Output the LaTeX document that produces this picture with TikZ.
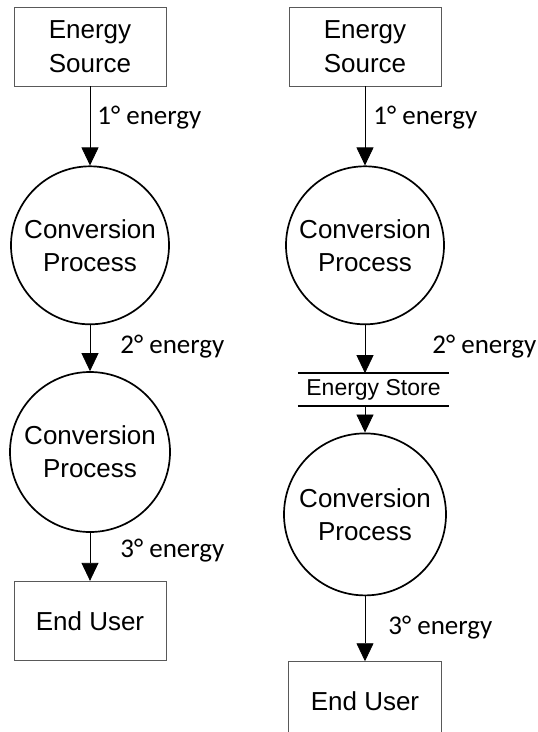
\documentclass[tikz,border=0pt]{standalone}
\usepackage{fontspec}
\setmainfont{Liberation Sans}
\newfontfamily\labelfont{Carlito}
\usetikzlibrary{arrows.meta, positioning}
\tikzset{
    node distance = 46pt and 46pt,% vertical gap between the stages
    unit/.style = {rectangle, draw=black!65, line width=0.9pt, minimum width=152pt, minimum height=79pt, inner sep=0pt, align=center, font=\fontsize{26}{34}\selectfont}, % source and user boxes
    process/.style = {circle, draw, line width=1.7pt, minimum size=158pt, inner sep=0pt, align=center, font=\fontsize{26}{33}\selectfont},
    store/.style = {rectangle, minimum width=151pt, minimum height=32pt, inner sep=0pt, font=\fontsize{23}{28}\selectfont},
    storeline/.style = {line width=2pt},
    flow/.style = {-{Triangle[length=18pt, width=17pt]}, line width=0.8pt},
    lab/.style = {right, inner sep=0pt, font=\labelfont\fontsize{27}{32}\selectfont}
}
\begin{document}
\begin{tikzpicture}[x=1pt, y=-1pt]
    \useasboundingbox (0,0) rectangle (538,732);
    % left chain
    \node (srcA) [unit] at (90,46.5) {Energy\\Source};
    \node (convA1) [process, below=79pt of srcA] {Conversion\\Process};
    \node (convA2) [process, minimum size=160pt, below=of convA1] {Conversion\\Process};
    \node (userA) [unit, below=48pt of convA2] {End User};
    \draw[flow] (srcA) -- node[lab, pos=0.4, xshift=7pt] {1° energy} (convA1);
    \draw[flow] (convA1) -- node[lab, pos=0.47, xshift=30pt] {2° energy} (convA2);
    \draw[flow] (convA2) -- node[lab, pos=0.36, xshift=30pt] {3° energy} (userA);
    % right chain, with a store
    \node (srcB) [unit] at (365,46.5) {Energy\\Source};
    \node (convB1) [process, below=79pt of srcB] {Conversion\\Process};
    \node (storeB) [store, below=48pt of convB1, xshift=8.5pt] {Energy Store};
    \node (convB2) [process, minimum size=162pt, below=27pt of storeB, xshift=-8.5pt] {Conversion\\Process};
    \node (userB) [unit, minimum width=153pt, below=65pt of convB2] {End User};
    \draw[storeline] (storeB.north west) -- (storeB.north east);
    \draw[storeline] (storeB.south west) -- (storeB.south east);
    \draw[flow] (srcB) -- node[lab, pos=0.4, xshift=8pt] {1° energy} (convB1);
    \draw[flow] (convB1) -- node[lab, pos=0.45, xshift=67pt] {2° energy} (convB1.south |- storeB.north);
    \draw[flow] (convB2.north |- storeB.south) -- (convB2);
    \draw[flow] (convB2) -- node[lab, pos=0.48, xshift=23pt] {3° energy} (userB);
\end{tikzpicture}
\end{document}
